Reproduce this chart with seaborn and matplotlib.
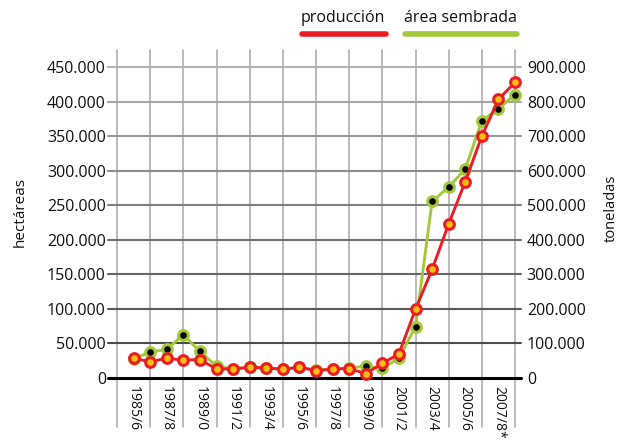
import numpy as np
import matplotlib
matplotlib.use("Agg")
import matplotlib.pyplot as plt
from matplotlib.lines import Line2D
import seaborn as sns

# campañas 1985/6 .. 2008/9 (one point per season)
seasons = ["1985/6", "1986/7", "1987/8", "1988/9", "1989/0", "1990/1", "1991/2",
           "1992/3", "1993/4", "1994/5", "1995/6", "1996/7", "1997/8", "1998/9",
           "1999/0", "2000/1", "2001/2", "2002/3", "2003/4", "2004/5", "2005/6",
           "2006/7", "2007/8*", "2008/9"]

# área sembrada (hectáreas, left axis)
area = [28000, 37500, 41500, 62500, 38500, 17000, 13500, 15500, 14500, 13000,
        15500, 11500, 13000, 14500, 17000, 14000, 28500, 74500, 255500, 276000,
        302500, 372000, 389500, 410000]

# producción (toneladas, right axis)
produccion = [57000, 47000, 57000, 52000, 53000, 26000, 26000, 31000, 29000, 25000,
              31000, 21000, 26000, 27000, 13000, 42000, 70000, 199000, 314000, 446000,
              568000, 700000, 806000, 856000]

left_ticks = list(range(0, 450001, 50000))
right_ticks = list(range(0, 900001, 100000))


def fmt(v):
    return "0" if v == 0 else f"{v:,}".replace(",", ".")


RED = "#ec1c24"
YELLOW = "#fdc010"
GREEN = "#a2c93a"

sns.set_style("white")
plt.rcParams["font.family"] = ["Open Sans", "DejaVu Sans"]

W, H = 620, 441
fig = plt.figure(figsize=(W / 100, H / 100), dpi=100)
ax = fig.add_axes([117 / W, 1 - 378 / H, 398 / W, 311 / H])
x = np.arange(len(seasons))

ax.set_xlim(-1, 23)
ax.set_ylim(0, 450000)

# vertical grid, running above the plot and down through the labels
for xv in range(-1, 24, 2):
    ax.axvline(xv, ymin=-49 / 311, ymax=1 + 17 / 311, clip_on=False,
               color="#a8a8a8", lw=1.1, zorder=0)

# horizontal grid, darker towards the bottom
for k, yv in enumerate(left_ticks):
    if yv == 0:
        c, lw = "black", 2.2
    else:
        t = (k - 1) / 8
        g = 0.30 + 0.40 * t
        c, lw = (g, g, g), 1.5
    ax.axhline(yv, xmin=-9 / 398, xmax=1 + 6 / 398, clip_on=False,
               color=c, lw=lw, zorder=1)

sns.lineplot(x=x, y=area, ax=ax, color=GREEN, lw=2.1, marker="o",
             markersize=7, markerfacecolor="black", markeredgecolor=GREEN,
             markeredgewidth=2.2, zorder=3, clip_on=False)

ax2 = ax.twinx()
ax2.set_ylim(0, 900000)
sns.lineplot(x=x, y=produccion, ax=ax2, color=RED, lw=2.1, marker="o",
             markersize=7, markerfacecolor=YELLOW, markeredgecolor=RED,
             markeredgewidth=2.2, zorder=4, clip_on=False)

ax.set_yticks(left_ticks)
ax.set_yticklabels([fmt(v) for v in left_ticks])
ax2.set_yticks(right_ticks)
ax2.set_yticklabels([fmt(v) for v in right_ticks])
ax.set_xticks(x[::2])
ax.set_xticklabels(seasons[::2], rotation=-90)

ax.tick_params(axis="y", length=0, pad=8, labelsize=11.5, colors="#111111")
ax2.tick_params(axis="y", length=0, pad=8.5, labelsize=11.5, colors="#111111")
ax.tick_params(axis="x", length=0, pad=5.5, labelsize=10, colors="#111111")
for a in (ax, ax2):
    for s in a.spines.values():
        s.set_visible(False)
    a.grid(False)
    a.set_xlabel("")
    a.set_ylabel("")

fig.text(20 / W, 1 - 212 / H, "hectáreas", rotation=90, ha="center",
         va="center", fontsize=11, color="#111111")
fig.text(611 / W, 1 - 208 / H, "toneladas", rotation=90, ha="center",
         va="center", fontsize=10.5, color="#111111")

# legend: labels with a thick coloured bar underneath
fig.text(343 / W, 1 - 18 / H, "producción", ha="center", va="center",
         fontsize=11.5, color="#111111")
fig.text(460 / W, 1 - 18 / H, "área sembrada", ha="center", va="center",
         fontsize=11.5, color="#111111")
fig.add_artist(Line2D([302 / W, 386 / W], [1 - 34 / H] * 2, color=RED,
                      lw=4, solid_capstyle="round"))
fig.add_artist(Line2D([405 / W, 517 / W], [1 - 34 / H] * 2, color=GREEN,
                      lw=4, solid_capstyle="round"))

fig.savefig("out.png", dpi=100)
